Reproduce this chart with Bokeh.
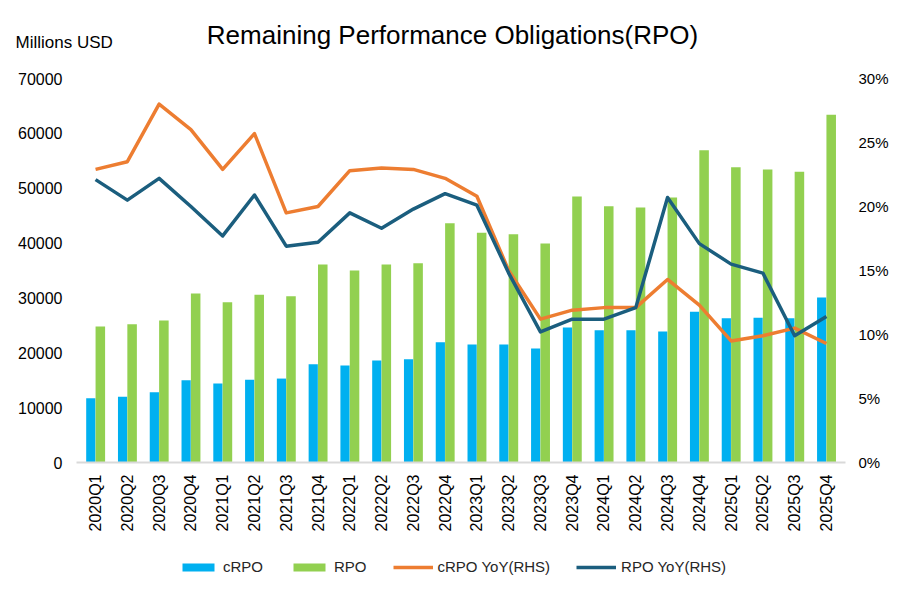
from bokeh.plotting import figure
from bokeh.models import (Range1d, LinearAxis, FixedTicker, NumeralTickFormatter,
                          Label, Legend, LegendItem, ColumnDataSource)
from bokeh.embed import file_html
from bokeh.resources import INLINE

quarters = ["2020Q1", "2020Q2", "2020Q3", "2020Q4", "2021Q1", "2021Q2", "2021Q3", "2021Q4",
            "2022Q1", "2022Q2", "2022Q3", "2022Q4", "2023Q1", "2023Q2", "2023Q3", "2023Q4",
            "2024Q1", "2024Q2", "2024Q3", "2024Q4", "2025Q1", "2025Q2", "2025Q3", "2025Q4"]
crpo = [11700, 12000, 12800, 15000, 14400, 15100, 15300, 17900,
        17700, 18600, 18800, 21900, 21500, 21500, 20800, 24600,
        24100, 24100, 23900, 27500, 26300, 26400, 26300, 30100]
rpo = [24800, 25200, 25900, 30800, 29200, 30600, 30300, 36100,
       35000, 36100, 36300, 43600, 41900, 41600, 39900, 48500,
       46700, 46500, 48300, 56900, 53800, 53400, 53000, 63400]
crpo_yoy = [0.229, 0.235, 0.280, 0.260, 0.229, 0.257, 0.195, 0.200,
            0.228, 0.230, 0.229, 0.222, 0.208, 0.150, 0.112, 0.119,
            0.121, 0.121, 0.143, 0.123, 0.095, 0.099, 0.105, 0.093]
rpo_yoy = [0.221, 0.205, 0.222, 0.200, 0.177, 0.209, 0.169, 0.172,
           0.195, 0.183, 0.198, 0.210, 0.201, 0.148, 0.102, 0.112,
           0.112, 0.121, 0.207, 0.171, 0.155, 0.148, 0.099, 0.114]
left_ticks = [0, 10000, 20000, 30000, 40000, 50000, 60000, 70000]
right_ticks = [0, 0.05, 0.10, 0.15, 0.20, 0.25, 0.30]
LEFT_MAX = 70000
RIGHT_MAX = 0.30

idx = list(range(len(quarters)))
src = ColumnDataSource(dict(x=idx, xb=[i - 0.15 for i in idx], xg=[i + 0.15 for i in idx],
                            crpo=crpo, rpo=rpo, cy=crpo_yoy, ry=rpo_yoy))

REG = "Liberation Sans"

# canvas layout (pixels); the frame covers the whole canvas, axes are pinned inside it
W, H = 890, 580
PLOT_L, PLOT_R, PLOT_T, PLOT_B = 76, 845, 78, 462
X0, X1 = -0.6, len(quarters) - 0.4
ppx = (PLOT_R - PLOT_L) / (X1 - X0)
ppy = (PLOT_B - PLOT_T) / LEFT_MAX
ppr = (PLOT_B - PLOT_T) / RIGHT_MAX
x_range = Range1d(X0 - PLOT_L / ppx, X1 + (W - PLOT_R) / ppx)
y_range = Range1d(-(H - PLOT_B) / ppy, PLOT_B / ppy)

def dx(px):
    return X0 + (px - PLOT_L) / ppx

def dy(py):
    return (PLOT_B - py) / ppy

p = figure(width=W, height=H, output_backend="svg", toolbar_location=None,
           x_range=x_range, y_range=y_range,
           min_border_left=0, min_border_right=0, min_border_top=0, min_border_bottom=0,
           background_fill_color="white", border_fill_color="white")
p.title.visible = False
p.outline_line_color = None
p.xgrid.grid_line_color = None
p.ygrid.grid_line_color = None
p.extra_y_ranges = {"pct": Range1d(-(H - PLOT_B) / ppr, PLOT_B / ppr)}

# left axis
ya = p.yaxis[0]
ya.fixed_location = X0
ya.ticker = FixedTicker(ticks=left_ticks)
ya.axis_line_color = None
ya.major_tick_line_color = None
ya.minor_tick_line_color = None
ya.major_label_text_font_size = "16px"
ya.major_label_text_font = REG
ya.major_label_text_color = "#000000"
ya.major_label_standoff = 8

# right axis
ra = LinearAxis(y_range_name="pct", ticker=FixedTicker(ticks=right_ticks),
                formatter=NumeralTickFormatter(format="0%"), fixed_location=X1)
ra.axis_line_color = None
ra.major_tick_line_color = None
ra.minor_tick_line_color = None
ra.major_label_text_font_size = "15px"
ra.major_label_text_font = REG
ra.major_label_text_color = "#000000"
ra.major_label_standoff = 7
p.add_layout(ra, "right")

# x axis
xa = p.xaxis[0]
xa.fixed_location = 0
xa.bounds = (X0, X1)
xa.ticker = FixedTicker(ticks=idx)
xa.major_label_overrides = {i: q for i, q in enumerate(quarters)}
xa.major_label_orientation = 1.5708
xa.axis_line_color = "#d9d9d9"
xa.axis_line_width = 2
xa.major_tick_line_color = None
xa.minor_tick_line_color = None
xa.major_label_text_font_size = "16px"
xa.major_label_text_font = REG
xa.major_label_text_color = "#000000"
xa.major_label_standoff = 6

b1 = p.vbar(x="xb", top="crpo", width=0.29, source=src, color="#00B0F0", line_color=None)
b2 = p.vbar(x="xg", top="rpo", width=0.30, source=src, color="#92D050", line_color=None)
l1 = p.line(x="x", y="cy", source=src, y_range_name="pct", line_color="#ED7D31",
            line_width=3.5, line_join="round")
l2 = p.line(x="x", y="ry", source=src, y_range_name="pct", line_color="#1B5E7E",
            line_width=3.5, line_join="round")

p.add_layout(Label(x=dx(452), y=dy(34),
                   text="Remaining Performance Obligations(RPO)", text_align="center",
                   text_baseline="middle", text_font=REG, text_font_size="26px",
                   text_color="#000000"))
p.add_layout(Label(x=dx(15), y=dy(42),
                   text="Millions USD", text_align="left", text_baseline="middle",
                   text_font=REG, text_font_size="17px", text_color="#000000"))

legend = Legend(items=[LegendItem(label="cRPO", renderers=[b1]),
                       LegendItem(label="RPO", renderers=[b2]),
                       LegendItem(label="cRPO YoY(RHS)", renderers=[l1]),
                       LegendItem(label="RPO YoY(RHS)", renderers=[l2])],
                orientation="horizontal", location=(178, 5),
                glyph_width=40, glyph_height=10, label_text_font=REG,
                label_text_font_size="15px", label_text_color="#262626",
                label_standoff=5, spacing=26,
                padding=0, margin=0, border_line_color=None, background_fill_alpha=0)
p.add_layout(legend, "center")

open("out.html", "w").write(file_html(p, INLINE))
